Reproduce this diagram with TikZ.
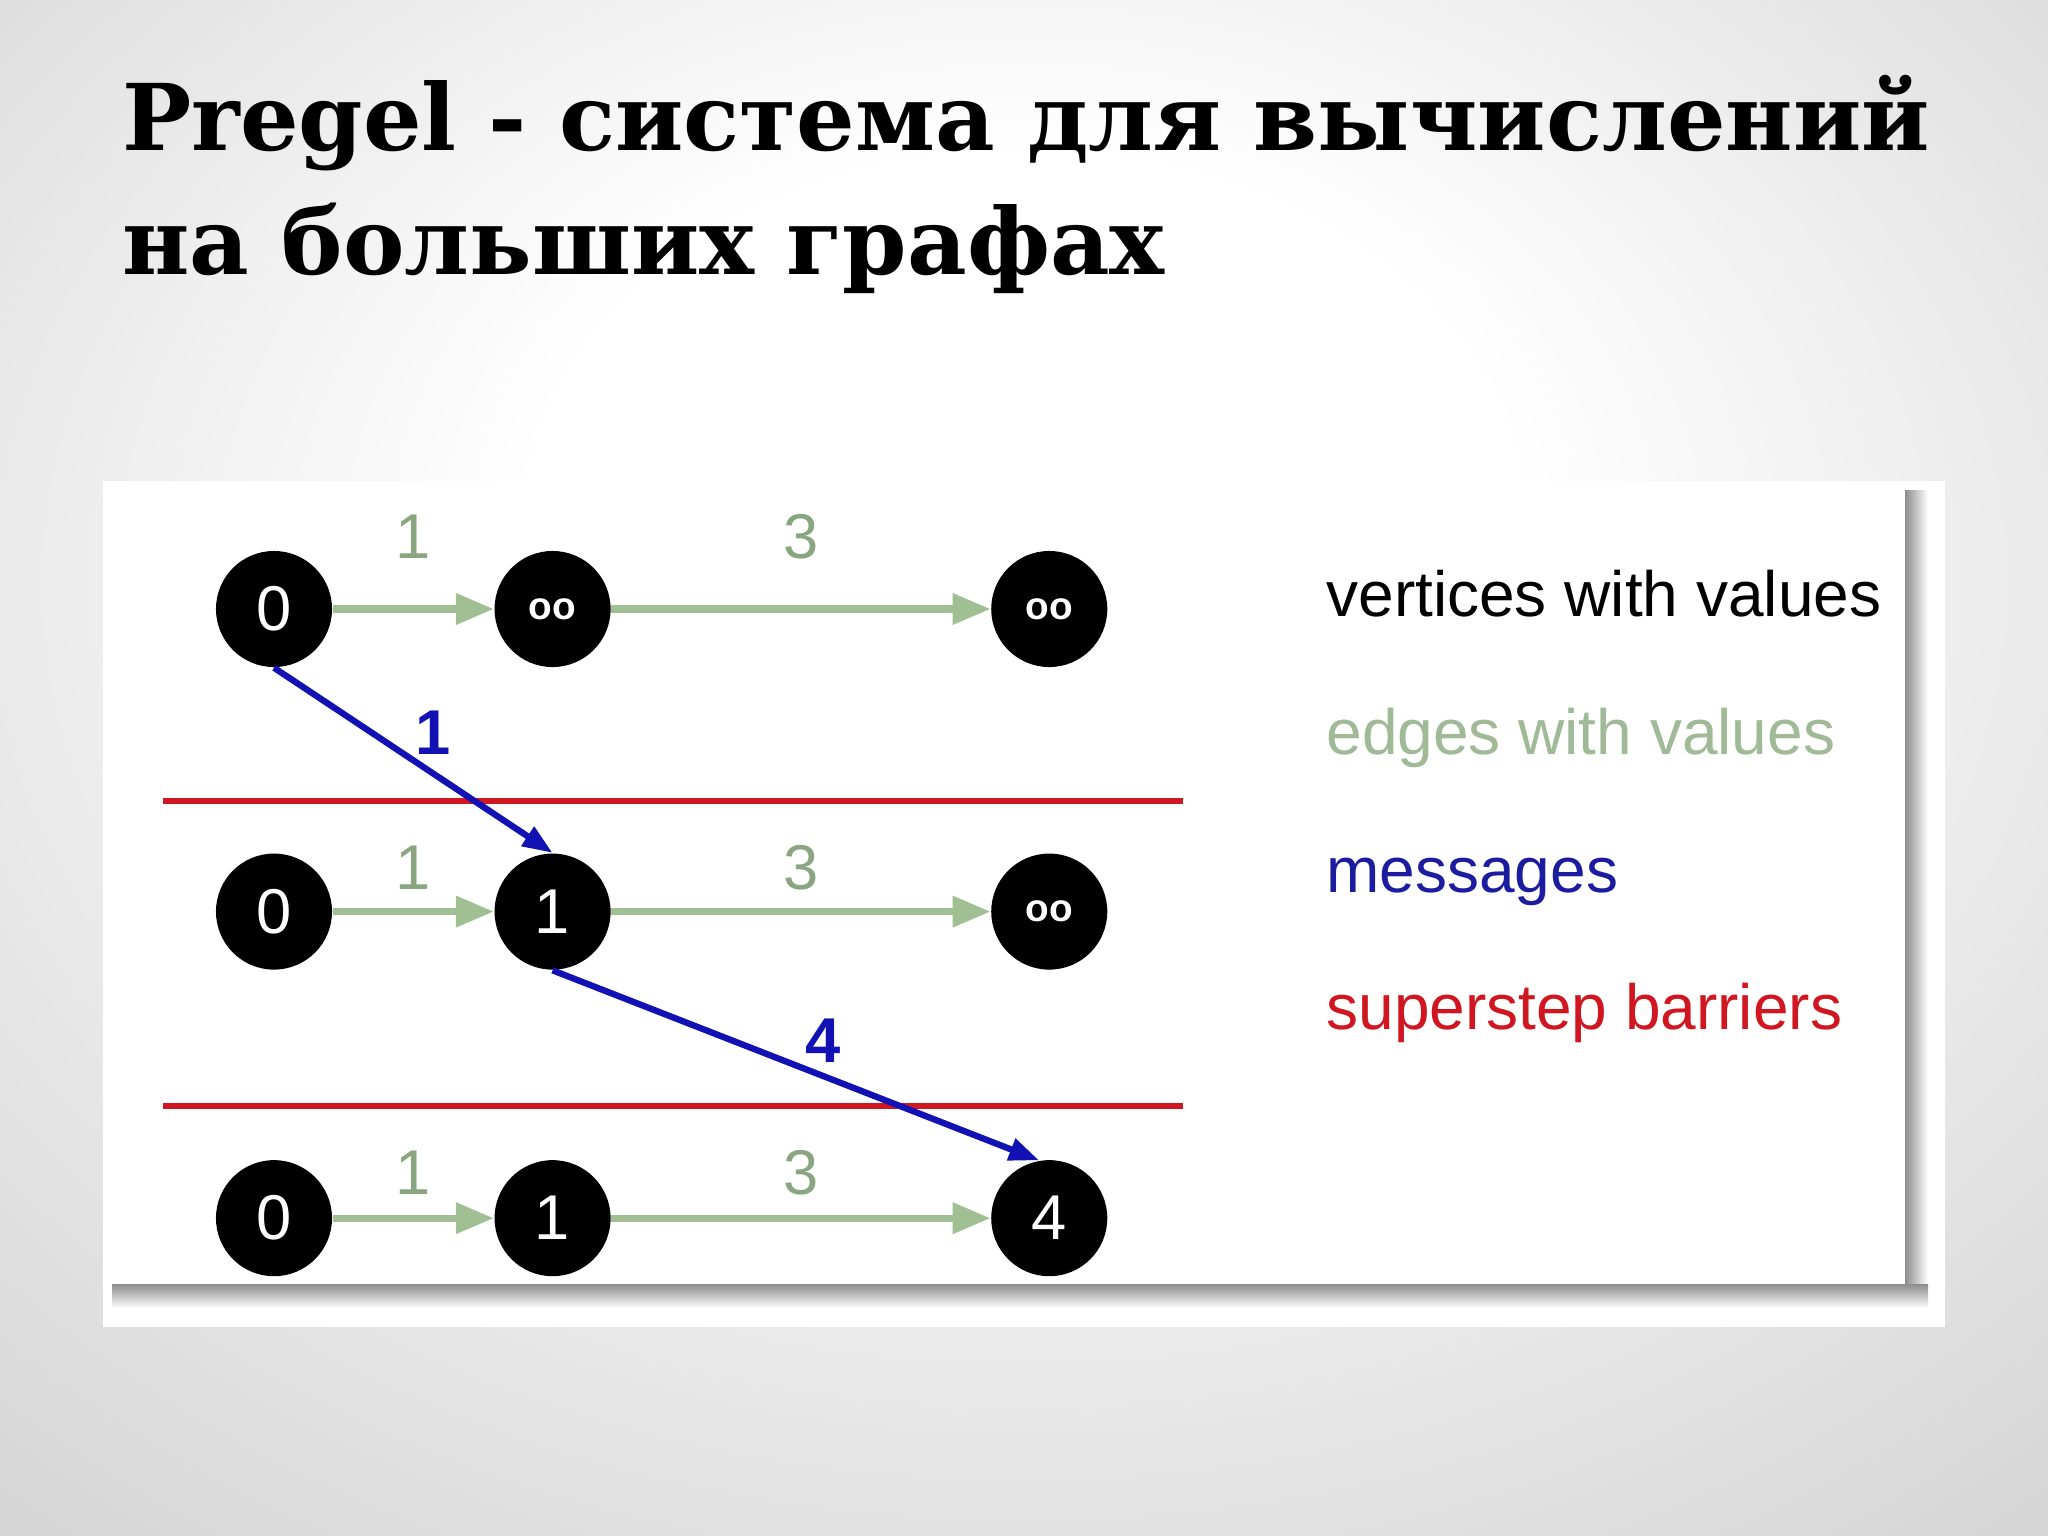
\documentclass[tikz,border=0pt]{standalone}
\usepackage{fontspec}
\setmainfont{Liberation Sans}
\newfontfamily\titlefont{DejaVu Serif}
\usetikzlibrary{positioning}
\usetikzlibrary{arrows.meta}
\usetikzlibrary{calc}

\definecolor{edgegreen}{RGB}{160,192,148}
\definecolor{edgetext}{RGB}{138,166,128}
\definecolor{legendgreen}{RGB}{160,185,150}
\definecolor{msgblue}{RGB}{18,18,180}
\definecolor{msgtext}{RGB}{28,28,160}
\definecolor{barrierred}{RGB}{208,22,32}
\definecolor{shadowgray}{RGB}{140,140,140}

\pgfdeclareradialshading{slidebg}{\pgfpoint{0bp}{10bp}}{%
  color(0bp)=(white); color(12bp)=(white); color(45bp)=(black!21); color(60bp)=(black!24)}

\newcommand\infval{{\bfseries\fontsize{11}{11}\selectfont oo}}

\begin{document}
\begin{tikzpicture}[x=0.01cm, y=-0.01cm,
    title/.style={anchor=base west, font=\titlefont\bfseries\fontsize{26.2}{30}\selectfont},
    vertex/.style={circle, fill=black, text=white, minimum size=1.16cm, inner sep=0pt, font=\fontsize{18}{18}\selectfont},
    edge/.style={draw=edgegreen, line width=2pt, -{Triangle[length=0.38cm, width=0.3cm]}},
    edgelbl/.style={text=edgetext, font=\fontsize{18}{18}\selectfont},
    msg/.style={draw=msgblue, line width=1.8pt, -{Triangle[length=0.3cm, width=0.22cm]}},
    msglbl/.style={text=msgblue, font=\bfseries\fontsize{18}{18}\selectfont},
    barrier/.style={draw=barrierred, line width=1.8pt},
    legend/.style={anchor=base west, font=\fontsize{18.2}{18}\selectfont},
]
    % slide background and picture panel
    \shade[shading=slidebg] (0,0) rectangle (2048,1536);
    \fill[white] (103,481) rectangle (1945,1327);
    \shade[left color=shadowgray, right color=white] (1905,490) rectangle (1928,1306);
    \shade[top color=shadowgray, bottom color=white] (112,1284) rectangle (1928,1308);
    \fill[white] (103,481) rectangle (1905,1284);

    \node[title] (T1) at (110,150) {Pregel - система для вычислений};
    \node[title] (T2) at (110,274) {на больших графах};

    \node[vertex] (V11) at (274,609) {0};
    \node[vertex] (V12) [right=1.61cm of V11] {\infval};
    \node[vertex] (V13) [right=3.79cm of V12] {\infval};

    \node[vertex] (V21) [below=1.85cm of V11] {0};
    \node[vertex] (V22) [right=1.61cm of V21] {1};
    \node[vertex] (V23) [right=3.79cm of V22] {\infval};

    \node[vertex] (V31) [below=1.89cm of V21] {0};
    \node[vertex] (V32) [right=1.61cm of V31] {1};
    \node[vertex] (V33) [right=3.79cm of V32] {4};

    \draw[edge] (V11) -- node[edgelbl, yshift=0.72cm] (E11) {1} (V12);
    \draw[edge] (V12) -- node[edgelbl, yshift=0.72cm] (E12) {3} (V13);
    \draw[edge] (V21) -- node[edgelbl, yshift=0.44cm] (E21) {1} (V22);
    \draw[edge] (V22) -- node[edgelbl, yshift=0.44cm] (E22) {3} (V23);
    \draw[edge] (V31) -- node[edgelbl, yshift=0.45cm] (E31) {1} (V32);
    \draw[edge] (V32) -- node[edgelbl, yshift=0.45cm] (E32) {3} (V33);

    % superstep barriers
    \coordinate (R1a) at (163,801);
    \coordinate (R1b) at (1183,801);
    \coordinate (R2a) at (163,1106);
    \coordinate (R2b) at (1183,1106);
    \draw[barrier] (R1a) -- (R1b);
    \draw[barrier] (R2a) -- (R2b);

    \draw[msg] (V11.south) -- node[msglbl, pos=0.35, xshift=0.62cm] (M1) {1} (V22.north);
    \draw[msg] (V22.south) -- node[msglbl, pos=0.37, xshift=0.9cm] (M2) {4} (V33.100);

    \node[legend] (K1) at (1314,616) {vertices with values};
    \node[legend, text=legendgreen] (K2) at (1314,754) {edges with values};
    \node[legend, text=msgtext] (K3) at (1314,892) {messages};
    \node[legend, text=barrierred] (K4) at (1314,1029) {superstep barriers};

\end{tikzpicture}
\end{document}
